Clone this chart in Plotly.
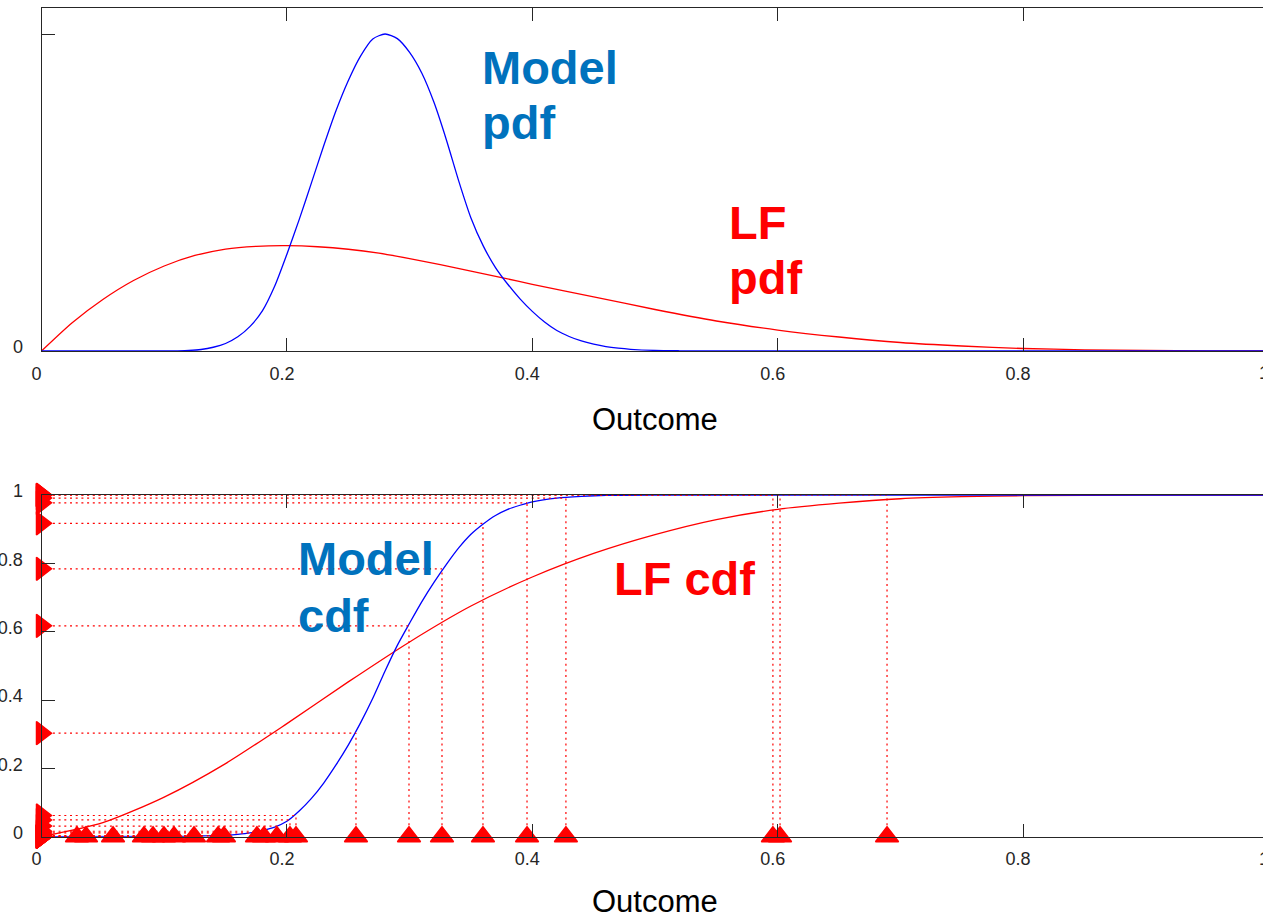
import plotly.graph_objects as go

# ---------------- data ----------------
model_pdf_x = [0, 0.10, 0.11, 0.12, 0.13, 0.14, 0.15, 0.16, 0.17, 0.18, 0.19, 0.20, 0.21, 0.22,
               0.23, 0.24, 0.25, 0.26, 0.27, 0.28, 0.29, 0.30, 0.31, 0.32, 0.33, 0.34, 0.35,
               0.36, 0.37, 0.38, 0.39, 0.40, 0.41, 0.42, 0.43, 0.44, 0.45, 0.46, 0.47, 0.48,
               0.50, 0.52, 0.55, 1.0]
model_pdf_y = [0, 0, 0.004, 0.012, 0.036, 0.09, 0.18, 0.34, 0.59, 0.96, 1.55, 2.32, 3.15, 4.03,
               4.92, 5.76, 6.48, 7.07, 7.48, 7.60, 7.49, 7.16, 6.66, 5.95, 5.06, 4.08, 3.19,
               2.52, 2.00, 1.60, 1.25, 0.95, 0.695, 0.49, 0.348, 0.24, 0.163, 0.105, 0.067, 0.041,
               0.014, 0.005, 0, 0]

lf_pdf_x = [0, 0.025, 0.05, 0.075, 0.10, 0.125, 0.15, 0.175, 0.20, 0.225, 0.25, 0.275, 0.30,
            0.325, 0.35, 0.375, 0.40, 0.45, 0.50, 0.55, 0.60, 0.65, 0.70, 0.75, 0.80, 0.85,
            0.90, 0.95, 1.0]
lf_pdf_y = [0, 0.678, 1.235, 1.690, 2.038, 2.290, 2.445, 2.510, 2.525, 2.500, 2.440, 2.345, 2.215,
            2.070, 1.915, 1.760, 1.600, 1.300, 0.995, 0.719, 0.503, 0.336, 0.204, 0.120, 0.060, 0.029,
            0.012, 0.004, 0]

model_cdf_x = [0, 0.12, 0.13, 0.14, 0.15, 0.16, 0.17, 0.18, 0.19, 0.20, 0.21, 0.22, 0.23, 0.24,
               0.25, 0.26, 0.27, 0.28, 0.29, 0.30, 0.31, 0.32, 0.33, 0.34, 0.35, 0.36, 0.37,
               0.38, 0.39, 0.40, 0.42, 0.44, 0.46, 0.50, 1.0]
model_cdf_y = [0, 0.001, 0.002, 0.003, 0.0045, 0.007, 0.011, 0.018, 0.028, 0.045, 0.075, 0.112,
               0.157, 0.210, 0.268, 0.333, 0.405, 0.485, 0.560, 0.625, 0.688, 0.745, 0.797, 0.845,
               0.885, 0.915, 0.940, 0.958, 0.970, 0.980, 0.991, 0.996, 0.999, 1.0, 1.0]

lf_cdf_x = [0, 0.05, 0.10, 0.15, 0.20, 0.25, 0.30, 0.35, 0.40, 0.45, 0.50, 0.55, 0.60, 0.65,
            0.70, 0.75, 0.80, 0.90, 1.0]
lf_cdf_y = [0, 0.041, 0.116, 0.214, 0.331, 0.453, 0.570, 0.675, 0.760, 0.829, 0.884, 0.928,
            0.958, 0.976, 0.989, 0.995, 0.998, 1.0, 1.0]

sample_x = [0.0289, 0.0363, 0.0583, 0.0835, 0.0909, 0.0998, 0.1080, 0.1243, 0.1439,
            0.1487, 0.1756, 0.1813, 0.1919, 0.2025, 0.2074, 0.2563, 0.2995, 0.3264,
            0.3598, 0.3957, 0.4274, 0.5961, 0.6019, 0.6891]
sample_model_cdf = [0.000, 0.000, 0.000, 0.000, 0.000, 0.000, 0.000, 0.001, 0.002,
                    0.003, 0.011, 0.016, 0.031, 0.049, 0.062, 0.303, 0.617, 0.784,
                    0.917, 0.977, 0.991, 1.000, 1.000, 1.000]

x_tick_vals = [0, 0.2, 0.4, 0.6, 0.8, 1]
x_tick_text = ["0", "0.2", "0.4", "0.6", "0.8", "1"]
top_tick_vals = [0, 7.6]
top_tick_text = ["0", ""]
cdf_tick_vals = [0, 0.2, 0.4, 0.6, 0.8, 1]
cdf_tick_text = ["0", "0.2", "0.4", "0.6", "0.8", "1"]

# ---------------- layout geometry ----------------
W, H = 1263, 916
X0PX, XSCALE = 41.5, 1227.0
x_max = (W - X0PX) / XSCALE
TOP_Y_MAX = 8.2165

def py(p):
    return (H - p) / H

FONT = "Liberation Sans, Arial, Helvetica, sans-serif"
AX = "#262626"
BLUE = "#0000FF"
RED = "#FF0000"
TXT_BLUE = "#0072BD"
SPL = dict(shape="spline", smoothing=0.7)

fig = go.Figure()

fig.add_trace(go.Scatter(x=lf_pdf_x, y=lf_pdf_y, mode="lines", line=dict(color=RED, width=1.3, **SPL),
                         xaxis="x", yaxis="y", showlegend=False))
fig.add_trace(go.Scatter(x=model_pdf_x, y=model_pdf_y, mode="lines", line=dict(color=BLUE, width=1.3, **SPL),
                         xaxis="x", yaxis="y", showlegend=False))

fig.add_trace(go.Scatter(x=lf_cdf_x, y=lf_cdf_y, mode="lines", line=dict(color=RED, width=1.3, **SPL),
                         xaxis="x2", yaxis="y2", showlegend=False))
fig.add_trace(go.Scatter(x=model_cdf_x, y=model_cdf_y, mode="lines", line=dict(color=BLUE, width=1.3, **SPL),
                         xaxis="x2", yaxis="y2", showlegend=False))

gx, gy = [], []
for sx, sf in zip(sample_x, sample_model_cdf):
    gx += [0, sx, None, sx, sx, None]
    gy += [sf, sf, None, 0, sf, None]
fig.add_trace(go.Scatter(x=gx, y=gy, mode="lines", line=dict(color=RED, width=1.2, dash="2px,3.7px"),
                         xaxis="x2", yaxis="y2", showlegend=False, connectgaps=False))

fig.add_trace(go.Scatter(x=sample_x, y=[0] * len(sample_x), mode="markers",
                         marker=dict(symbol="triangle-up", size=20, color=RED, line=dict(color=RED, width=1.5)),
                         xaxis="x2", yaxis="y2", showlegend=False, cliponaxis=False))
fig.add_trace(go.Scatter(x=[0] * len(sample_model_cdf), y=sample_model_cdf, mode="markers",
                         marker=dict(symbol="triangle-right", size=20, color=RED, line=dict(color=RED, width=1.5)),
                         xaxis="x2", yaxis="y2", showlegend=False, cliponaxis=False))

xdom = [X0PX / W, 1.0]
top_dom = [py(351), py(8.3)]
bot_dom = [py(836.7), py(495)]

common_x = dict(range=[0, x_max], tickvals=x_tick_vals, ticktext=x_tick_text, ticks="inside", ticklen=13,
                tickcolor=AX, tickwidth=1, showline=True, linecolor=AX, linewidth=1, mirror="ticks",
                showgrid=False, zeroline=False, tickfont=dict(family=FONT, size=18, color=AX),
                ticklabelstandoff=6, ticklabelshift=-5, automargin=False)
left_y = dict(ticks="inside", ticklen=13, tickcolor=AX, showline=True, linecolor=AX, linewidth=1, mirror=False,
              showgrid=False, zeroline=False, tickfont=dict(family=FONT, size=18, color=AX),
              ticklabelstandoff=14, ticklabelshift=-4, automargin=False)
right_y = dict(side="right", ticks="inside", ticklen=8, tickcolor=AX, showline=False, showticklabels=False,
               showgrid=False, zeroline=False, automargin=False)

fig.update_layout(
    width=W, height=H, margin=dict(l=0, r=0, t=0, b=0, autoexpand=False),
    paper_bgcolor="white", plot_bgcolor="white",
    xaxis=dict(domain=xdom, anchor="y", **common_x),
    xaxis2=dict(domain=xdom, anchor="y2", **common_x),
    yaxis=dict(domain=top_dom, anchor="x", range=[0, TOP_Y_MAX], tickvals=top_tick_vals,
               ticktext=top_tick_text, **left_y),
    yaxis3=dict(overlaying="y", anchor="x", range=[0, TOP_Y_MAX], tickvals=top_tick_vals, **right_y),
    yaxis2=dict(domain=bot_dom, anchor="x2", range=[0, 1], tickvals=cdf_tick_vals,
                ticktext=cdf_tick_text, **left_y),
    yaxis4=dict(overlaying="y2", anchor="x2", range=[0, 1], tickvals=cdf_tick_vals, **right_y),
)

def label(text, x, y, color, xref, yref, size=47, bold=True, xanchor="left"):
    fig.add_annotation(text=("<b>%s</b>" % text) if bold else text, x=x, y=y, xref=xref, yref=yref,
                       xanchor=xanchor, yanchor="middle", showarrow=False,
                       font=dict(family=FONT, size=size, color=color))

def xd(px):
    return (px - X0PX) / XSCALE

def ytop(p):
    return (351 - p) / 317 * 7.6

def ybot(p):
    return (836.7 - p) / 341.7

label("Model", xd(480), ytop(67), TXT_BLUE, "x", "y")
label("pdf", xd(480), ytop(122), TXT_BLUE, "x", "y")
label("LF", xd(727), ytop(222), RED, "x", "y")
label("pdf", xd(727), ytop(277), RED, "x", "y")
label("Model", xd(296), ybot(558), TXT_BLUE, "x2", "y2")
label("cdf", xd(296), ybot(615), TXT_BLUE, "x2", "y2")
label("LF cdf", xd(612), ybot(578), RED, "x2", "y2")
label("Outcome", 0.5, py(420), "#000000", "x", "paper", size=31, bold=False, xanchor="center")
label("Outcome", 0.5, py(901), "#000000", "x2", "paper", size=31, bold=False, xanchor="center")

# the x tick label "1" sits at the cut right edge of the figure (paper coordinates)
last_tick = x_tick_text[-1]
x_last_paper = (X0PX + x_tick_vals[-1] * XSCALE - 5) / W
label(last_tick, x_last_paper, py(373), AX, "paper", "paper", size=18, bold=False, xanchor="center")
label(last_tick, x_last_paper, py(859), AX, "paper", "paper", size=18, bold=False, xanchor="center")

fig.write_html("out.html")
